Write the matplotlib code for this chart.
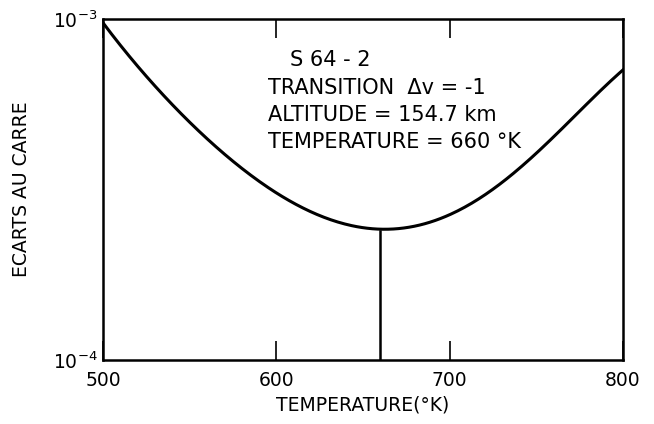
import numpy as np
import matplotlib
matplotlib.use("Agg")
import matplotlib.pyplot as plt

# courbe des écarts au carré en fonction de la température
temp = [500, 517, 537, 556, 575, 595, 614, 633, 660, 690, 710, 729, 739, 754, 777, 800]
ecarts = [1.0e-3, 7.23e-4, 5.79e-4, 4.82e-4, 3.86e-4, 3.22e-4, 2.79e-4, 2.54e-4,
          2.39e-4, 2.54e-4, 2.85e-4, 3.31e-4, 3.68e-4, 4.22e-4, 5.30e-4, 7.2e-4]

t_min = 660
ecart_min = 2.39e-4

xticks = [500, 600, 700, 800]
yticks = [1e-4, 1e-3]
ytick_labels = [r"$10^{-4}$", r"$10^{-3}$"]

info = ["S 64 - 2", "TRANSITION  Δv = -1", "ALTITUDE = 154.7 km", "TEMPERATURE = 660 °K"]

plt.rcParams["font.family"] = ["DejaVu Sans"]

fig = plt.figure(figsize=(6.54, 4.24), dpi=100)
ax = fig.add_axes([0.1575, 0.151, 0.795, 0.804])

# interpolation lisse en log pour tracer la courbe
tt = np.linspace(500, 800, 300)
coef = np.polyfit(temp, np.log10(ecarts), 5)
ax.plot(tt, 10 ** np.polyval(coef, tt), color="black", lw=2.2)
ax.plot([t_min, t_min], [1e-4, ecart_min], color="black", lw=1.8)

ax.set_yscale("log")
ax.set_xlim(500, 800)
ax.set_ylim(1e-4, 1e-3)
ax.set_xticks(xticks)
ax.set_xticklabels([str(v) for v in xticks])
ax.set_yticks(yticks)
ax.set_yticklabels(ytick_labels)
ax.yaxis.set_minor_locator(matplotlib.ticker.NullLocator())
ax.tick_params(axis="x", direction="in", length=14, width=1.2, top=True,
               labelsize=13.5, pad=8)
ax.tick_params(axis="y", length=0, labelsize=13.5, pad=4)
for s in ax.spines.values():
    s.set_linewidth(1.8)

ax.set_xlabel("TEMPERATURE(°K)", fontsize=13.5, labelpad=4)
ax.set_ylabel("ECARTS AU CARRE", fontsize=13.5, labelpad=16)

ax.text(0.36, 0.88, info[0], transform=ax.transAxes, fontsize=15, va="center")
for i, line in enumerate(info[1:]):
    ax.text(0.317, 0.798 - i * 0.0795, line, transform=ax.transAxes,
            fontsize=15, va="center")

fig.savefig("out.png", dpi=100)
